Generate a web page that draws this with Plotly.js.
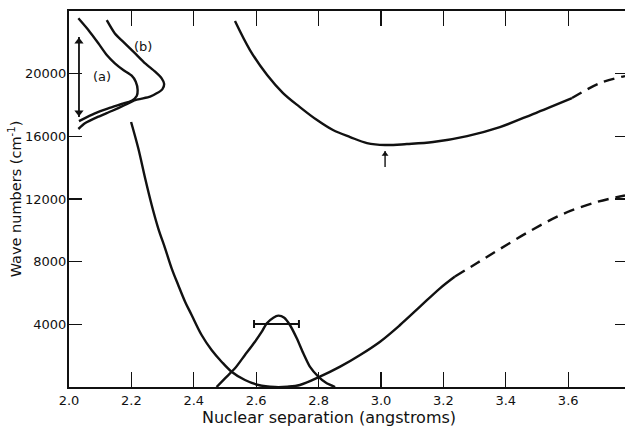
<!DOCTYPE html>
<html>
<head>
<meta charset="utf-8">
<script src="https://cdn.plot.ly/plotly-3.0.1.min.js"></script>
<style>html,body{margin:0;padding:0;background:#fff;}#chart{width:625px;height:427px;}</style>
</head>
<body>
<div id="chart"></div>
<script>
// Ground-state potential curve (solid part, then dashed extrapolation)
const groundX = [2.199, 2.222, 2.244, 2.265, 2.286, 2.308, 2.329, 2.350, 2.372, 2.393, 2.425, 2.457, 2.489, 2.521, 2.564, 2.607, 2.660, 2.700, 2.740, 2.804, 2.869, 2.933, 2.997, 3.061, 3.125, 3.189, 3.237];
const groundY = [16915, 15236, 13321, 11617, 10130, 8853, 7577, 6511, 5445, 4596, 3319, 2362, 1615, 977, 447, 128, 0, 20, 128, 660, 1298, 2043, 2893, 3957, 5127, 6300, 7053];
const groundDashX = [3.237, 3.308, 3.381, 3.478, 3.583, 3.692, 3.782];
const groundDashY = [7053, 7915, 8808, 9957, 11042, 11809, 12223];

// Excited-state potential curve
const upperX = [2.532, 2.580, 2.635, 2.686, 2.740, 2.795, 2.846, 2.901, 2.955, 3.013, 3.083, 3.167, 3.276, 3.381, 3.487, 3.612];
const upperY = [23357, 21506, 19911, 18762, 17868, 17039, 16401, 15954, 15571, 15444, 15507, 15635, 16018, 16592, 17422, 18443];
const upperDashX = [3.612, 3.702, 3.782];
const upperDashY = [18443, 19400, 19847];

// Ground-state distribution (bell)
const bellX = [2.473, 2.500, 2.532, 2.564, 2.596, 2.618, 2.634, 2.655, 2.671, 2.690, 2.708, 2.730, 2.751, 2.772, 2.799, 2.826, 2.853];
const bellY = [0, 553, 1192, 2043, 2893, 3532, 4064, 4425, 4553, 4420, 3957, 3106, 2149, 1298, 660, 234, 0];

// Spectrum curves (a) and (b)
const specAX = [2.030, 2.062, 2.094, 2.121, 2.147, 2.174, 2.201, 2.214, 2.220, 2.217, 2.201, 2.169, 2.126, 2.083, 2.032];
const specAY = [23534, 22787, 21938, 21191, 20661, 20234, 19870, 19487, 18957, 18574, 18274, 18064, 17789, 17470, 16975];
const specBX = [2.121, 2.147, 2.179, 2.212, 2.244, 2.276, 2.297, 2.305, 2.299, 2.281, 2.260, 2.233, 2.212, 2.179, 2.137, 2.094, 2.051, 2.030];
const specBY = [23421, 22570, 21932, 21294, 20655, 20125, 19700, 19336, 18999, 18744, 18531, 18404, 18319, 18000, 17617, 17253, 16830, 16468];

// Width bar on the bell
const barCenter = [2.665];
const barY = [4020];
const barHalf = [0.072];

// Arrows: shaft ends and head positions
const rangeArrowX = [2.032, 2.032];
const rangeArrowY = [17230, 22336];
const rangeHeadY = [17520, 22046];
const minArrowX = [3.013, 3.013];
const minArrowY = [14040, 15060];
const minHeadY = [14860];

const xTicks = [2.0, 2.2, 2.4, 2.6, 2.8, 3.0, 3.2, 3.4, 3.6];
const xTickText = ['2.0', '2.2', '2.4', '2.6', '2.8', '3.0', '3.2', '3.4', '3.6'];
const yTicks = [4000, 8000, 12000, 16000, 20000];
const yTickText = ['4000', '8000', '12000', '16000', '20000'];

const ink = '#111';
const lw = 2.4;
function line(x, y, dash, sm) {
  return {x: x, y: y, mode: 'lines', type: 'scatter', showlegend: false, hoverinfo: 'skip',
          line: {color: ink, width: lw, dash: dash || 'solid', shape: 'spline', smoothing: sm || 0.6}};
}
function shaft(x, y, width) {
  return {x: x, y: y, mode: 'lines', type: 'scatter', showlegend: false, hoverinfo: 'skip',
          line: {color: ink, width: width}};
}
function heads(x, y, symbols, size) {
  return {x: x, y: y, mode: 'markers', type: 'scatter', showlegend: false, hoverinfo: 'skip',
          marker: {symbol: symbols, size: size, color: ink, line: {width: 0}}};
}

const traces = [
  line(groundX, groundY, null, 1.0),
  line(groundDashX, groundDashY, '11px,7px', 1.0),
  line(upperX, upperY, null, 1.0),
  line(upperDashX, upperDashY, '11px,7px', 1.0),
  line(bellX, bellY),
  line(specAX, specAY),
  line(specBX, specBY),
  {x: barCenter, y: barY, type: 'scatter', mode: 'markers', showlegend: false, hoverinfo: 'skip',
   marker: {size: 1, color: 'rgba(0,0,0,0)'},
   error_x: {type: 'data', array: barHalf, symmetric: true, width: 4, thickness: 2, color: ink}},
  shaft(rangeArrowX, rangeArrowY, 1.8),
  heads(rangeArrowX, rangeHeadY, ['triangle-down', 'triangle-up'], 8),
  shaft(minArrowX, minArrowY, 1.4),
  heads([minArrowX[0]], minHeadY, ['triangle-up'], 6),
  {x: [2.0], y: [0], type: 'scatter', mode: 'markers', yaxis: 'y2', showlegend: false, hoverinfo: 'skip',
   marker: {size: 1, color: 'rgba(0,0,0,0)'}}
];

const font = {family: 'DejaVu Sans, sans-serif', color: ink};
const layout = {
  width: 625, height: 427,
  margin: {l: 69, r: 0, t: 11, b: 40, pad: 0},
  paper_bgcolor: '#fff', plot_bgcolor: '#fff',
  font: Object.assign({size: 13}, font),
  showlegend: false,
  xaxis: {
    range: [2.0, 3.782], tickvals: xTicks, ticktext: xTickText,
    ticks: 'inside', ticklen: 15, tickwidth: 1.3, tickcolor: ink,
    showline: true, linewidth: 2, linecolor: ink, mirror: 'ticks',
    showgrid: false, zeroline: false,
    tickfont: Object.assign({size: 13}, font)
  },
  yaxis: {
    range: [0, 24000], tickvals: yTicks, ticktext: yTickText,
    ticks: 'inside', ticklen: 13, tickwidth: 1.3, tickcolor: ink,
    ticklabelstandoff: -2,
    showline: true, linewidth: 2, linecolor: ink, mirror: false,
    showgrid: false, zeroline: false,
    tickfont: Object.assign({size: 13}, font),
    title: {text: 'Wave numbers (cm<sup>-1</sup>)', font: Object.assign({size: 14.5}, font), standoff: 0}
  },
  yaxis2: {
    overlaying: 'y', matches: 'y', side: 'right', range: [0, 24000], tickvals: yTicks,
    ticks: 'inside', ticklen: 10, tickwidth: 1.3, tickcolor: ink,
    showticklabels: false, showline: false, showgrid: false, zeroline: false
  },
  annotations: [
    {x: 0.4676, y: -0.0824, xref: 'paper', yref: 'paper', xanchor: 'center', yanchor: 'middle',
     text: 'Nuclear separation (angstroms)', showarrow: false, font: Object.assign({size: 16}, font)},
    {x: 2.106, y: 19800, xref: 'x', yref: 'y', text: '(a)', showarrow: false, font: Object.assign({size: 13}, font)},
    {x: 2.237, y: 21750, xref: 'x', yref: 'y', text: '(b)', showarrow: false, font: Object.assign({size: 13}, font)}
  ]
};

Plotly.newPlot('chart', traces, layout, {displayModeBar: false, staticPlot: true});
</script>
</body>
</html>
